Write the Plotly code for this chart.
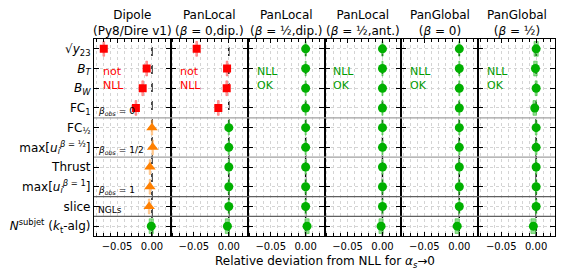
import plotly.graph_objects as go
from plotly.subplots import make_subplots

# ---------------- data ----------------
row_labels = [
    "√<i>y</i><sub>23</sub>",
    "<i>B</i><sub><i>T</i></sub>",
    "<i>B</i><sub><i>W</i></sub>",
    "FC<sub>1</sub>",
    "FC<sub>½</sub>",
    "max[<i>u</i><sub><i>i</i></sub><sup><i>β</i> = ½</sup>]",
    "Thrust",
    "max[<i>u</i><sub><i>i</i></sub><sup><i>β</i> = 1</sup>]",
    "slice",
    "<i>N</i><sup>subjet</sup> (<i>k</i><sub>t</sub>-alg)",
]
panel_titles = [
    "Dipole<br>(Py8/Dire v1)",
    "PanLocal<br>(<i>β</i> = 0,dip.)",
    "PanLocal<br>(<i>β</i> = ½,dip.)",
    "PanLocal<br>(<i>β</i> = ½,ant.)",
    "PanGlobal<br>(<i>β</i> = 0)",
    "PanGlobal<br>(<i>β</i> = ½)",
]
# deviation per observable (rows top->bottom), per shower
dipole_dev = [-0.069, -0.0076, -0.0133, -0.023, 0.000, 0.001, -0.003, -0.003, -0.004, -0.001]
dipole_err = [0.0012, 0.0012, 0.0012, 0.0012, 0.0010, 0.0010, 0.0010, 0.0010, 0.0012, 0.0030]
panlocal0_dev = [-0.046, -0.0025, -0.003, -0.015, 0.000, 0.000, 0.000, 0.000, 0.000, -0.002]
panlocal0_err = [0.0012, 0.0012, 0.0012, 0.0012, 0.0008, 0.0008, 0.0008, 0.0008, 0.0008, 0.0030]
panlocal_half_dip_dev = [0.000, 0.000, 0.000, 0.000, 0.000, 0.000, 0.000, 0.000, 0.000, 0.002]
panlocal_half_dip_err = [0.0008, 0.0008, 0.0008, 0.0008, 0.0008, 0.0008, 0.0008, 0.0008, 0.0008, 0.0030]
panlocal_half_ant_dev = [0.000, 0.000, 0.000, 0.000, 0.000, 0.000, 0.000, 0.000, 0.000, -0.002]
panlocal_half_ant_err = [0.0008, 0.0008, 0.0008, 0.0008, 0.0008, 0.0008, 0.0008, 0.0008, 0.0008, 0.0030]
panglobal0_dev = [0.000, 0.000, 0.000, 0.000, 0.000, 0.000, 0.000, 0.000, 0.000, -0.003]
panglobal0_err = [0.0008, 0.0008, 0.0008, 0.0008, 0.0008, 0.0008, 0.0008, 0.0008, 0.0008, 0.0030]
panglobal_half_dev = [0.000, -0.001, 0.000, -0.002, 0.000, 0.000, 0.000, 0.000, 0.000, -0.004]
panglobal_half_err = [0.0030, 0.0025, 0.0015, 0.0025, 0.0012, 0.0012, 0.0010, 0.0010, 0.0010, 0.0035]
# marker style per row for each shower: 'r' = not NLL, 'o' = orange, 'g' = NLL OK
dipole_style = ["r", "r", "r", "r", "o", "o", "o", "o", "o", "g"]
panlocal0_style = ["r", "r", "r", "r", "g", "g", "g", "g", "g", "g"]
ok_style = ["g"] * 10
panel_tags = ["not<br>NLL", "not<br>NLL", "NLL<br>OK", "NLL<br>OK", "NLL<br>OK", "NLL<br>OK"]
separators = [3.5, 5.5, 7.5, 8.5]
separator_labels = ["<i>β</i><sub><i>obs</i></sub> = 0", "<i>β</i><sub><i>obs</i></sub> = 1/2",
                    "<i>β</i><sub><i>obs</i></sub> = 1", "NGLs"]
x_ticks = [-0.05, 0.0]
x_ticktext = ["−0.05", "0.00"]

panels = [
    (dipole_dev, dipole_err, dipole_style),
    (panlocal0_dev, panlocal0_err, panlocal0_style),
    (panlocal_half_dip_dev, panlocal_half_dip_err, ok_style),
    (panlocal_half_ant_dev, panlocal_half_ant_err, ok_style),
    (panglobal0_dev, panglobal0_err, ok_style),
    (panglobal_half_dev, panglobal_half_err, ok_style),
]

styles = {
    "r": dict(symbol="square", color="#ff0000", band="rgba(255,90,90,0.55)", size=8),
    "o": dict(symbol="triangle-up", color="#ff8000", band="rgba(255,160,60,0.45)", size=10),
    "g": dict(symbol="circle", color="#00b000", band="rgba(40,190,40,0.5)", size=9),
}
FONT = "DejaVu Sans"

fig = make_subplots(rows=1, cols=6, shared_yaxes=True, horizontal_spacing=0)
rows = list(range(len(row_labels)))

for p, (dev, err, sty) in enumerate(panels):
    col = p + 1
    for key in ["r", "o", "g"]:
        idx = [i for i in rows if sty[i] == key]
        if not idx:
            continue
        s = styles[key]
        fig.add_trace(go.Bar(
            orientation="h", y=idx,
            x=[2 * err[i] for i in idx], base=[dev[i] - err[i] for i in idx],
            width=0.75, marker=dict(color=s["band"], line=dict(color=s["band"], width=1)),
            showlegend=False, hoverinfo="skip"), row=1, col=col)
    for key in ["r", "o", "g"]:
        idx = [i for i in rows if sty[i] == key]
        if not idx:
            continue
        s = styles[key]
        fig.add_trace(go.Scatter(
            x=[dev[i] for i in idx], y=idx, mode="markers",
            marker=dict(symbol=s["symbol"], color=s["color"], size=s["size"], line=dict(width=0)),
            showlegend=False), row=1, col=col)
    # zero reference
    fig.add_vline(x=0, line=dict(color="black", width=1.4, dash="dash"), row=1, col=col, layer="below")
    # title
    xa = "x" if col == 1 else f"x{col}"
    fig.add_annotation(text=panel_titles[p], xref=f"{xa} domain", yref="paper", x=0.5, y=1,
                       yanchor="bottom", yshift=-1, showarrow=False,
                       font=dict(family=FONT, size=12, color="black"))
    tag_color = "#ff0000" if p < 2 else "#009a00"
    fig.add_annotation(text=panel_tags[p], xref=f"{xa} domain", yref="y", x=0.09, y=1.5,
                       xanchor="left", yanchor="middle", align="left", showarrow=False,
                       font=dict(family=FONT, size=11, color=tag_color))

for k, yv in enumerate(separators):
    fig.add_shape(type="line", xref="paper", yref="y", x0=0, x1=1, y0=yv, y1=yv,
                  line=dict(color="#a0a0a0" if k < 2 else "#606060", width=1.2))
    fig.add_annotation(text=separator_labels[k], xref="paper", yref="y", x=0.005, y=yv,
                       xanchor="left", yanchor="bottom", yshift=-1, showarrow=False,
                       font=dict(family=FONT, size=9, color="black"))

fig.add_annotation(text="Relative deviation from NLL for <i>α</i><sub><i>s</i></sub>→0",
                   xref="paper", yref="paper", x=0.5, y=0, yanchor="middle", yshift=-26,
                   showarrow=False, font=dict(family=FONT, size=12, color="black"))

xcommon = dict(range=[-0.083, 0.027], tickvals=x_ticks, ticktext=x_ticktext,
               ticks="inside", ticklen=4, tickcolor="black", automargin=False,
               ticklabelstandoff=1,
               showline=True, linecolor="black", linewidth=1.2, mirror="ticks",
               showgrid=True, gridcolor="#d4d4d4", griddash="dot", gridwidth=1,
               zeroline=False, tickfont=dict(family=FONT, size=10, color="black"),
               minor=dict(dtick=0.01, tick0=0, ticks="inside", ticklen=3, tickcolor="black",
                          showgrid=True, gridcolor="#d4d4d4", griddash="dot"))
ycommon = dict(range=[9.5, -0.5], tickvals=rows, ticktext=row_labels,
               ticks="inside", ticklen=5, tickcolor="black", automargin=False,
               showline=True, linecolor="black", linewidth=1.2, mirror="ticks",
               showgrid=True, gridcolor="#d4d4d4", griddash="dot", zeroline=False,
               tickfont=dict(family=FONT, size=12, color="black"))
for c in range(1, 7):
    fig.update_xaxes(row=1, col=c, **xcommon)
    fig.update_yaxes(row=1, col=c, **ycommon)

fig.update_layout(
    width=564, height=274, barmode="overlay",
    margin=dict(l=94, r=9, t=39, b=38, autoexpand=False),
    plot_bgcolor="white", paper_bgcolor="white",
    font=dict(family=FONT, size=12, color="black"),
    showlegend=False,
)
fig.write_html("out.html", config={"displayModeBar": False},
               post_script="document.body.style.margin='0';document.body.style.overflow='hidden';")
